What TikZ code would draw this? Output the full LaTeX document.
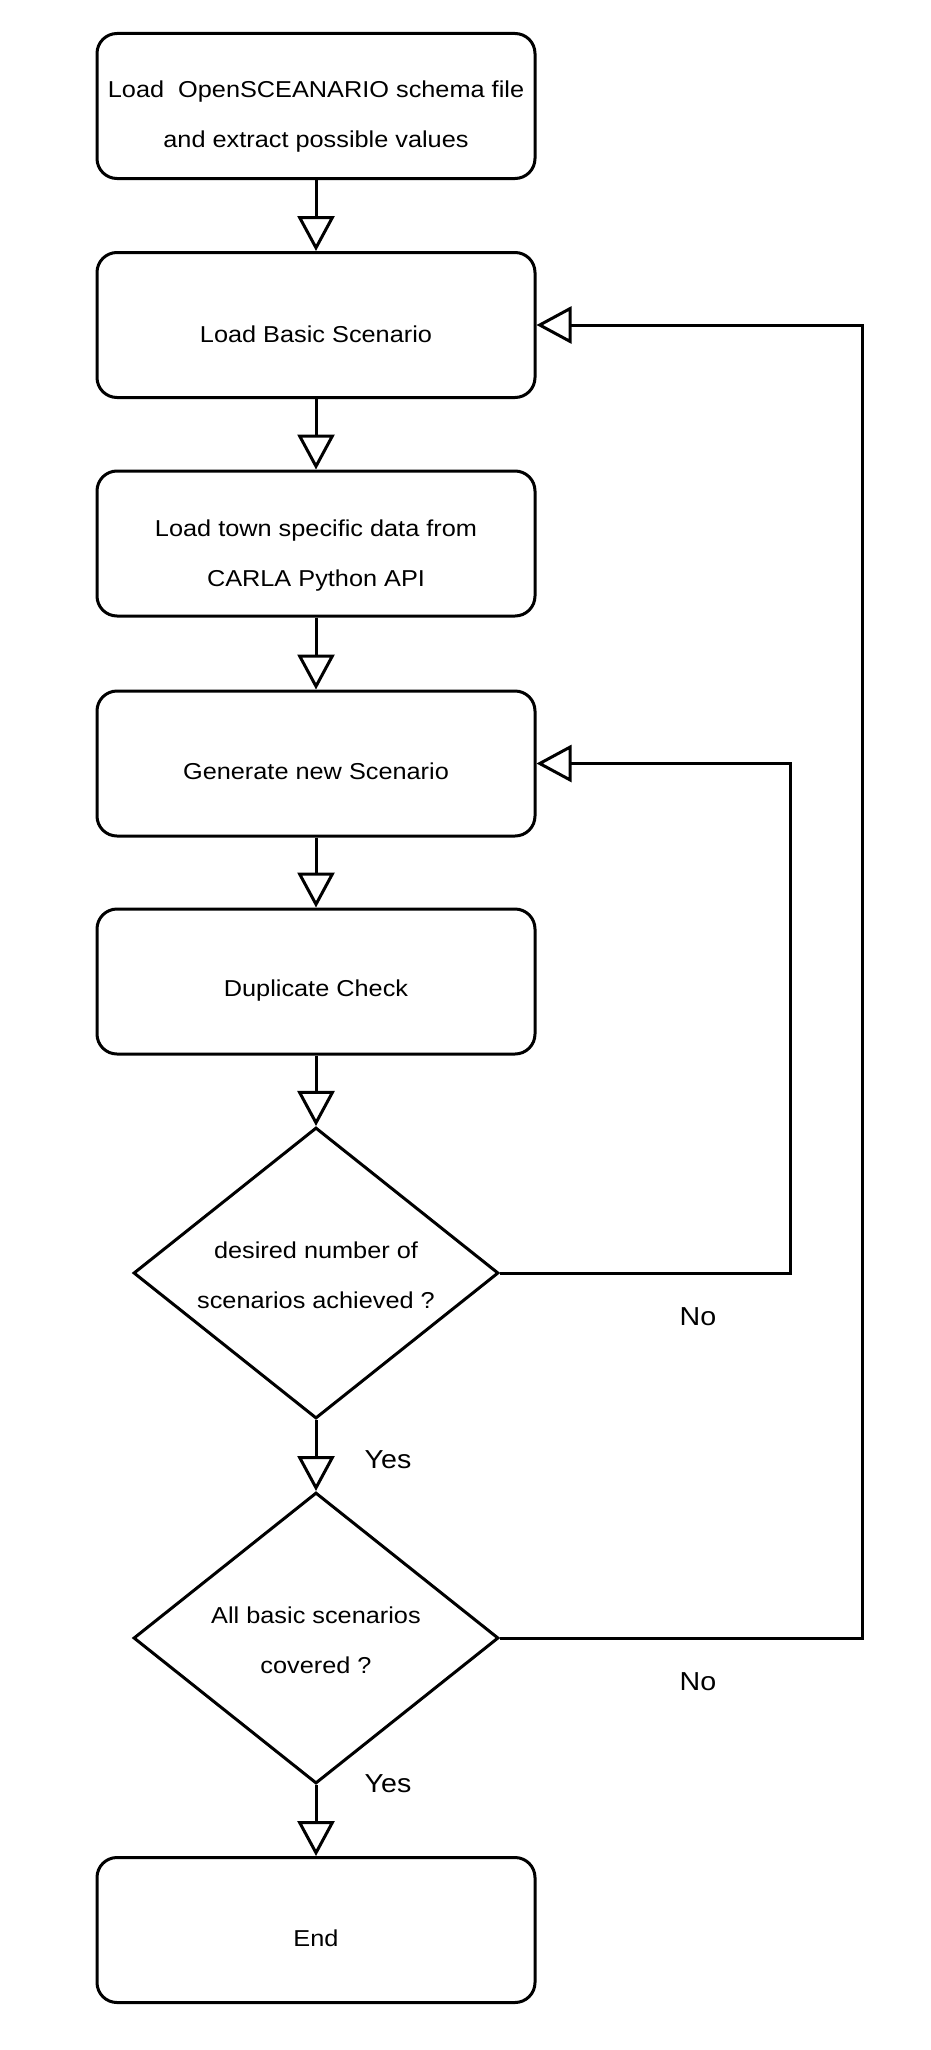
\documentclass[tikz,border=0pt]{standalone}
\usepackage{fontspec}
\newfontfamily\wfont[FakeStretch=1.1]{Liberation Sans}
\usetikzlibrary{shapes.geometric,arrows.meta}
\begin{document}
\begin{tikzpicture}[x=1pt,y=-1pt,
  line width=3pt,
  txt/.style={font=\wfont\fontsize{23}{50}\selectfont, align=center, inner sep=0pt},
  lbl/.style={font=\wfont\fontsize{26}{30}\selectfont, inner sep=0pt},
  box/.style={draw, rounded corners=20pt, minimum width=438pt, minimum height=145pt, inner sep=0pt},
  dia/.style={draw, diamond, minimum width=365pt, minimum height=291pt, inner sep=0pt},
  arr/.style={-{Triangle[open,length=35pt,width=37pt]}, line join=miter}
]
\useasboundingbox (0,0) rectangle (930,2050);

\node[box, label={[txt,yshift=-11pt]center:{Load\ \ OpenSCEANARIO schema file\\and extract possible values}}] (b1) at (316,106) {};
\node[box, label={[txt,yshift=-9pt]center:{Load Basic Scenario}}] (b2) at (316,325) {};
\node[box, label={[txt,yshift=-12pt]center:{Load town specific data from\\CARLA Python API}}] (b3) at (316,543.5) {};
\node[box, label={[txt,yshift=-8pt]center:{Generate new Scenario}}] (b4) at (316,763.5) {};
\node[box, label={[txt,yshift=-9pt]center:{Duplicate Check}}] (b5) at (316,981.5) {};
\node[dia, label={[txt,yshift=-2pt]center:{desired number of\\scenarios achieved ?}}] (d1) at (316,1273) {};
\node[dia, label={[txt,yshift=-2pt]center:{All basic scenarios\\covered ?}}] (d2) at (316,1638) {};
\node[box, label={[txt,yshift=-8pt]center:{End}}] (e) at (316,1930) {};

\coordinate (c1) at (790,1273);
\coordinate (c2) at (790,763.5);
\coordinate (c3) at (862,1638);
\coordinate (c4) at (862,325);

\draw[arr] (b1) -- (b2);
\draw[arr] (b2) -- (b3);
\draw[arr] (b3) -- (b4);
\draw[arr] (b4) -- (b5);
\draw[arr] (b5) -- (d1);
\draw[arr] (d1) -- (d2);
\draw[arr] (d2) -- (e);
\draw[arr] (d1.east) -- (c1) -- (c2) -- (b4.east);
\draw[arr] (d2.east) -- (c3) -- (c4) -- (b2.east);

\node[lbl] (no1) at (698,1317) {No};
\node[lbl] (no2) at (698,1682) {No};
\node[lbl] (yes1) at (388,1460) {Yes};
\node[lbl] (yes2) at (388,1784) {Yes};
\end{tikzpicture}
\end{document}
